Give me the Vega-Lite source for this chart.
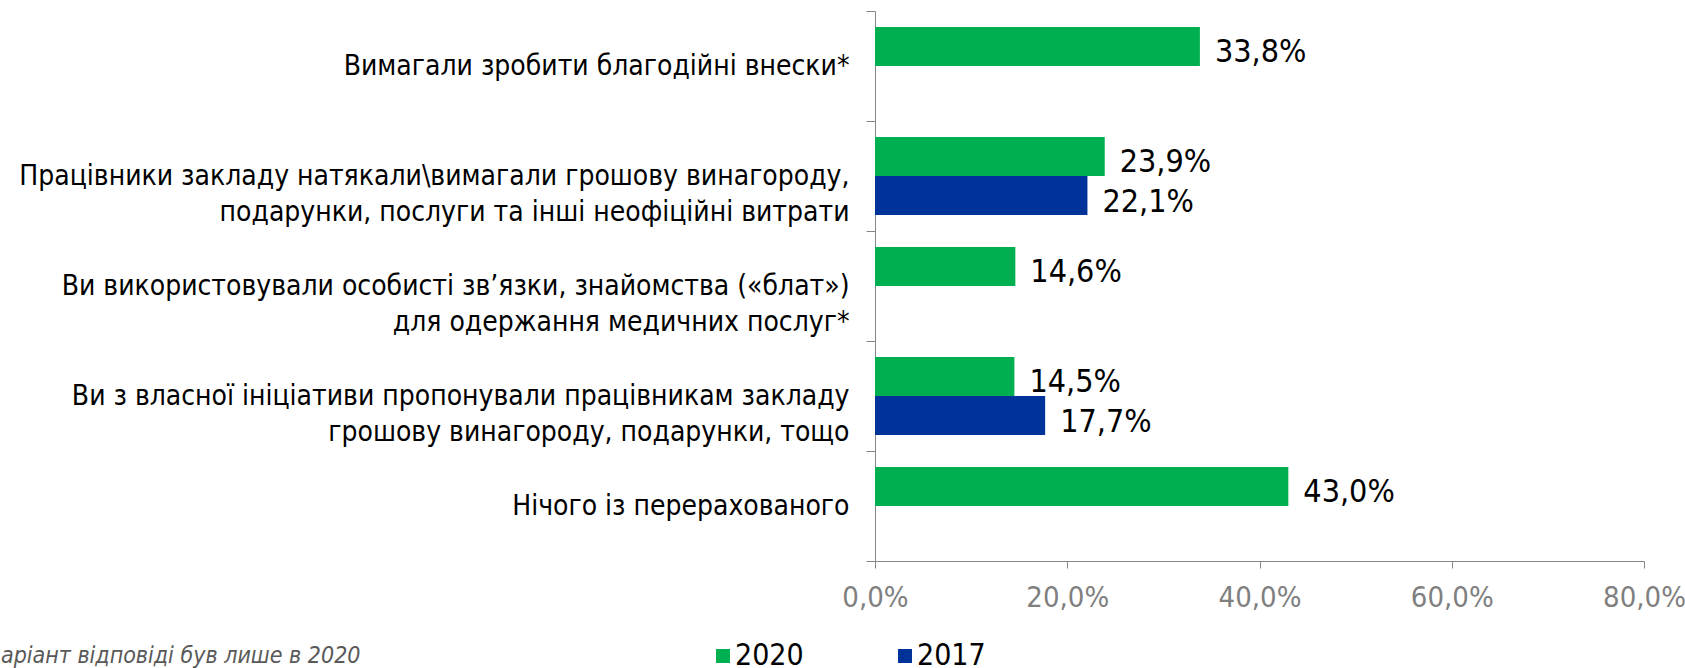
{
  "$schema": "https://vega.github.io/schema/vega-lite/v6.json",
  "width": 769,
  "height": 550,
  "autosize": {"type": "none"},
  "padding": {"left": 875, "top": 11, "right": 41, "bottom": 107},
  "config": {
    "locale": {"number": {"decimal": ",", "thousands": " ", "grouping": [3], "currency": ["", ""]}},
    "view": {"stroke": null},
    "font": "DejaVu Sans Condensed, Liberation Sans Narrow, DejaVu Sans, sans-serif"
  },
  "data": {
    "values": [
      {"category": "Вимагали зробити благодійні внески*", "year": "2020", "value": 0.338},
      {"category": "Працівники закладу натякали\\вимагали грошову винагороду,\nподарунки, послуги та інші неофіційні витрати", "year": "2020", "value": 0.239},
      {"category": "Працівники закладу натякали\\вимагали грошову винагороду,\nподарунки, послуги та інші неофіційні витрати", "year": "2017", "value": 0.221},
      {"category": "Ви використовували особисті зв’язки, знайомства («блат»)\nдля одержання медичних послуг*", "year": "2020", "value": 0.146},
      {"category": "Ви з власної ініціативи пропонували працівникам закладу\nгрошову винагороду, подарунки, тощо", "year": "2020", "value": 0.145},
      {"category": "Ви з власної ініціативи пропонували працівникам закладу\nгрошову винагороду, подарунки, тощо", "year": "2017", "value": 0.177},
      {"category": "Нічого із перерахованого", "year": "2020", "value": 0.43}
    ]
  },
  "encoding": {
    "y": {
      "field": "category",
      "type": "nominal",
      "sort": null,
      "scale": {"paddingInner": 0, "paddingOuter": 0},
      "axis": {
        "title": null,
        "labelExpr": "split(datum.label, '\\n')",
        "labelFontSize": 28,
        "labelColor": "#000000",
        "labelLineHeight": 36,
        "labelAlign": "right",
        "labelLimit": 1000,
        "labelPadding": 17,
        "tickBand": "extent",
        "tickSize": 9,
        "tickColor": "#868686",
        "domainColor": "#868686",
        "grid": false
      }
    },
    "yOffset": {
      "field": "year",
      "type": "nominal",
      "sort": ["2020", "2017"],
      "scale": {"paddingInner": 0, "paddingOuter": 0.41}
    },
    "x": {
      "field": "value",
      "type": "quantitative",
      "scale": {"domain": [0, 0.8]},
      "axis": {
        "title": "*варіант відповіді був лише в 2020",
        "titleX": -515,
        "titleY": 94,
        "titleAlign": "right",
        "titleBaseline": "middle",
        "titleFontSize": 23,
        "titleFontStyle": "italic",
        "titleFontWeight": "normal",
        "titleColor": "#595959",
        "format": ".1%",
        "values": [0, 0.2, 0.4, 0.6, 0.8],
        "labelFontSize": 29,
        "labelColor": "#7f7f7f",
        "tickColor": "#868686",
        "domainColor": "#868686",
        "tickSize": 7,
        "labelPadding": 15,
        "labelFlush": false,
        "grid": false
      }
    }
  },
  "layer": [
    {
      "mark": {"type": "bar"},
      "encoding": {
        "color": {
          "field": "year",
          "type": "nominal",
          "scale": {"domain": ["2020", "2017"], "range": ["#00B050", "#003399"]},
          "legend": {
            "orient": "none",
            "legendX": -167,
            "legendY": 630,
            "padding": 0,
            "direction": "horizontal",
            "title": null,
            "symbolType": "square",
            "symbolSize": 196,
            "symbolStrokeWidth": 0,
            "labelFontSize": 30,
            "labelColor": "#000000",
            "labelOffset": -3,
            "columnPadding": 86
          }
        }
      }
    },
    {
      "mark": {"type": "text", "align": "left", "baseline": "middle", "dx": 15, "dy": 6, "fontSize": 32, "color": "#000000"},
      "encoding": {"text": {"field": "value", "type": "quantitative", "format": ".1%"}}
    }
  ]
}
